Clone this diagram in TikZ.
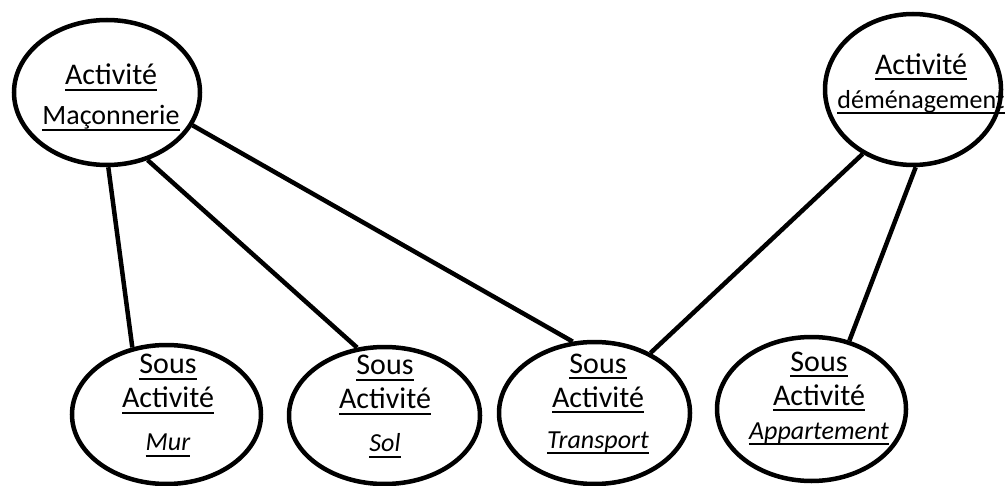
\documentclass[tikz,border=0pt]{standalone}
\usepackage{fontspec}
\setmainfont{Carlito}
\usetikzlibrary{shapes.geometric}
\newcommand{\souligne}[1]{{\setbox0\hbox{#1}\rlap{\rule[-6pt]{\wd0}{2pt}}\box0}}

\begin{document}
\begin{tikzpicture}[x=1pt, y=-1pt, line width=4.5pt,
    bulle/.style={draw, ellipse, inner sep=0pt},
    texte/.style={align=center, inner sep=0pt, font=\fontsize{30}{34}\selectfont}]
        \useasboundingbox (0,0) rectangle (1008,486);
        % activites
        \node[bulle, minimum width=186pt, minimum height=145pt] (mac) at (107,92.5) {};
        \node[bulle, minimum width=176pt, minimum height=151pt] (dem) at (913,89.5) {};
        % sous activites
        \node[bulle, minimum width=189pt, minimum height=139pt] (mur) at (166.5,414.5) {};
        \node[bulle, minimum width=191pt, minimum height=137pt] (sol) at (384.5,415.5) {};
        \node[bulle, minimum width=191pt, minimum height=142pt] (tra) at (594.5,413) {};
        \node[bulle, minimum width=189pt, minimum height=144pt] (app) at (811.5,409) {};
        % textes
        \node[texte] (macT) at (111,97.5) {\souligne{Activité}\\[6pt]{\fontsize{28}{30}\selectfont\souligne{Maçonnerie}}};
        \node[texte] (demT) at (921,84) {\souligne{Activité}\\{\fontsize{26}{30}\selectfont\souligne{déménagement}}};
        \node[texte] (murT) at (168,405.5) {\souligne{Sous}\\\souligne{Activité}\\[9pt]{\fontsize{26}{30}\selectfont\itshape\souligne{Mur}}};
        \node[texte] (solT) at (385,406.5) {\souligne{Sous}\\\souligne{Activité}\\[9pt]{\fontsize{26}{30}\selectfont\itshape\souligne{Sol}}};
        \node[texte] (traT) at (598,404) {\souligne{Sous}\\\souligne{Activité}\\[7pt]{\fontsize{26}{30}\selectfont\itshape\souligne{Transport}}};
        \node[texte] (appT) at (819,398.5) {\souligne{Sous}\\\souligne{Activité}\\{\fontsize{26}{30}\selectfont\itshape\souligne{Appartement}}};
        % liens
        \draw (mac.-89) -- (mur.117);
        \draw (mac.-59) -- (sol.112);
        \draw (mac.-21) -- (tra.107);
        \draw (dem.-128) -- (tra.47);
        \draw (dem.-88) -- (app.61);
      \end{tikzpicture}
\end{document}
